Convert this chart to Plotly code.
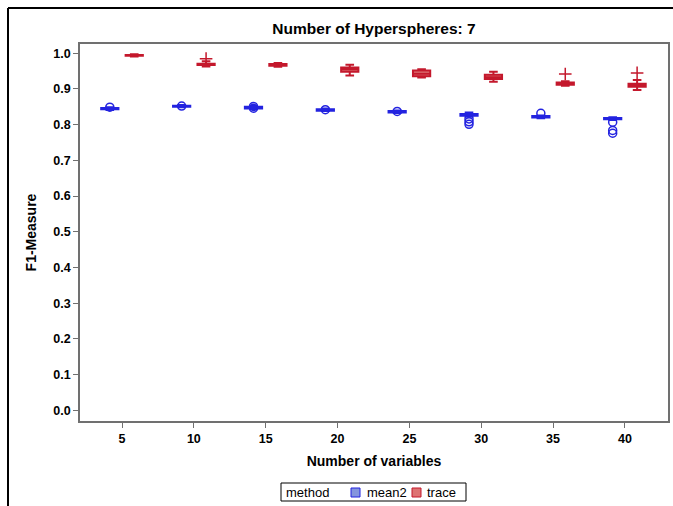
import plotly.graph_objects as go

# ---- data ----
categories = ["5", "10", "15", "20", "25", "30", "35", "40"]

mean2_q1 = [0.843, 0.850, 0.845, 0.839, 0.834, 0.825, 0.820, 0.815]
mean2_median = [0.845, 0.852, 0.848, 0.841, 0.836, 0.828, 0.822, 0.817]
mean2_q3 = [0.847, 0.853, 0.850, 0.843, 0.838, 0.830, 0.824, 0.819]
mean2_low = [0.841, 0.849, 0.843, 0.838, 0.833, 0.822, 0.818, 0.813]
mean2_high = [0.849, 0.855, 0.852, 0.845, 0.840, 0.834, 0.826, 0.821]
mean2_outliers = [[0.849], [0.852], [0.851, 0.846], [0.842], [0.837],
                  [0.816, 0.808, 0.801], [0.832], [0.807, 0.784, 0.776]]

trace_q1 = [0.993, 0.967, 0.965, 0.948, 0.936, 0.928, 0.912, 0.906]
trace_median = [0.994, 0.969, 0.968, 0.955, 0.943, 0.933, 0.915, 0.911]
trace_q3 = [0.995, 0.971, 0.970, 0.960, 0.952, 0.940, 0.918, 0.915]
trace_low = [0.991, 0.963, 0.962, 0.938, 0.932, 0.920, 0.909, 0.897]
trace_high = [0.997, 0.978, 0.973, 0.968, 0.955, 0.948, 0.922, 0.925]
trace_outliers = [[], [0.985], [], [], [], [], [0.942], [0.945]]

y_ticks = [round(i * 0.1, 1) for i in range(11)]
legend_title = "method"
legend_names = ["mean2", "trace"]

# ---- styling ----
W, H = 673, 506
ML, MR, MT, MB = 80, 5, 44, 85
PW, PH = W - ML - MR, H - MT - MB
OFFSET = 0.17
BOX_W = 0.24
FONT = "Liberation Sans, Arial, sans-serif"
BLUE_LINE = "#2323E0"
BLUE_FILL = "rgba(110,130,215,0.85)"
RED_LINE = "#C4182C"
RED_FILL = "rgba(215,90,90,0.85)"


def px(x):
    return (x - ML) / PW


def py(y):
    return (H - MB - y) / PH


idx = list(range(len(categories)))
xm = [i - OFFSET for i in idx]
xt = [i + OFFSET for i in idx]

fig = go.Figure()

fig.add_trace(go.Box(
    name="mean2", x=xm, q1=mean2_q1, median=mean2_median, q3=mean2_q3,
    lowerfence=mean2_low, upperfence=mean2_high, width=BOX_W,
    line=dict(color=BLUE_LINE, width=2), fillcolor=BLUE_FILL,
    boxpoints=False, whiskerwidth=0.5, showlegend=False,
))
fig.add_trace(go.Box(
    name="trace", x=xt, q1=trace_q1, median=trace_median, q3=trace_q3,
    lowerfence=trace_low, upperfence=trace_high, width=BOX_W,
    line=dict(color=RED_LINE, width=2), fillcolor=RED_FILL,
    boxpoints=False, whiskerwidth=0.5, showlegend=False,
))

ox, oy = [], []
for x, vals in zip(xm, mean2_outliers):
    for v in vals:
        ox.append(x); oy.append(v)
fig.add_trace(go.Scatter(
    x=ox, y=oy, mode="markers", showlegend=False,
    marker=dict(symbol="circle-open", size=8, color=BLUE_LINE,
                line=dict(width=1.5, color=BLUE_LINE)),
))
ox, oy = [], []
for x, vals in zip(xt, trace_outliers):
    for v in vals:
        ox.append(x); oy.append(v)
fig.add_trace(go.Scatter(
    x=ox, y=oy, mode="markers", showlegend=False,
    marker=dict(symbol="cross-thin-open", size=9, color=RED_LINE,
                line=dict(width=1.5, color=RED_LINE)),
))

# page frame (left and top edges) and a compact custom legend
shapes = [
    dict(type="line", xref="paper", yref="paper",
         x0=px(8), x1=px(8), y0=py(H + 5), y1=py(8),
         line=dict(color="black", width=2)),
    dict(type="line", xref="paper", yref="paper",
         x0=px(8), x1=px(W + 5), y0=py(8), y1=py(8),
         line=dict(color="black", width=2)),
    dict(type="rect", xref="paper", yref="paper",
         x0=px(281), x1=px(466), y0=py(501), y1=py(483),
         line=dict(color="black", width=1), fillcolor="white"),
    dict(type="rect", xref="paper", yref="paper",
         x0=px(351), x1=px(360), y0=py(497), y1=py(488),
         line=dict(color=BLUE_LINE, width=1), fillcolor=BLUE_FILL),
    dict(type="rect", xref="paper", yref="paper",
         x0=px(412), x1=px(421), y0=py(497), y1=py(488),
         line=dict(color=RED_LINE, width=1), fillcolor=RED_FILL),
]
ann = [
    dict(text=legend_title, x=px(284), y=py(492)),
    dict(text=legend_names[0], x=px(365), y=py(492)),
    dict(text=legend_names[1], x=px(425), y=py(492)),
]
annotations = [dict(a, xref="paper", yref="paper", xanchor="left",
                    yanchor="middle", showarrow=False,
                    font=dict(size=13, family=FONT, color="black"))
               for a in ann]

fig.update_layout(
    width=W, height=H,
    margin=dict(l=ML, r=MR, t=MT, b=MB),
    paper_bgcolor="white", plot_bgcolor="white",
    font=dict(family=FONT, size=12, color="black"),
    title=dict(text="<b>Number of Hyperspheres: 7</b>", x=0.5, xref="paper",
               xanchor="center", y=1 - 29 / H, yanchor="middle",
               font=dict(size=15.5, family=FONT)),
    showlegend=False,
    shapes=shapes,
    annotations=annotations,
)

fig.update_xaxes(
    range=[-0.585, 7.6], tickmode="array", tickvals=idx,
    ticktext=["<b>%s</b>" % c for c in categories],
    showgrid=False, zeroline=False, showline=True, mirror=True,
    linecolor="#707070", linewidth=1.5, ticks="outside", ticklen=5,
    tickcolor="#707070", tickfont=dict(size=12.5, family=FONT),
    title=dict(text="<b>Number of variables</b>", font=dict(size=14), standoff=11),
    automargin=False,
)
fig.update_yaxes(
    range=[-0.030, 1.026], tickmode="array", tickvals=y_ticks,
    ticktext=["<b>%.1f</b>" % v for v in y_ticks],
    showgrid=False, zeroline=False, showline=True, mirror=True,
    linecolor="#707070", linewidth=1.5, ticks="outside", ticklen=5,
    tickcolor="#707070", tickfont=dict(size=12.5, family=FONT),
    title=dict(text="<b>F1-Measure</b>", font=dict(size=14), standoff=13),
    automargin=False,
)

fig.write_html("out.html")
